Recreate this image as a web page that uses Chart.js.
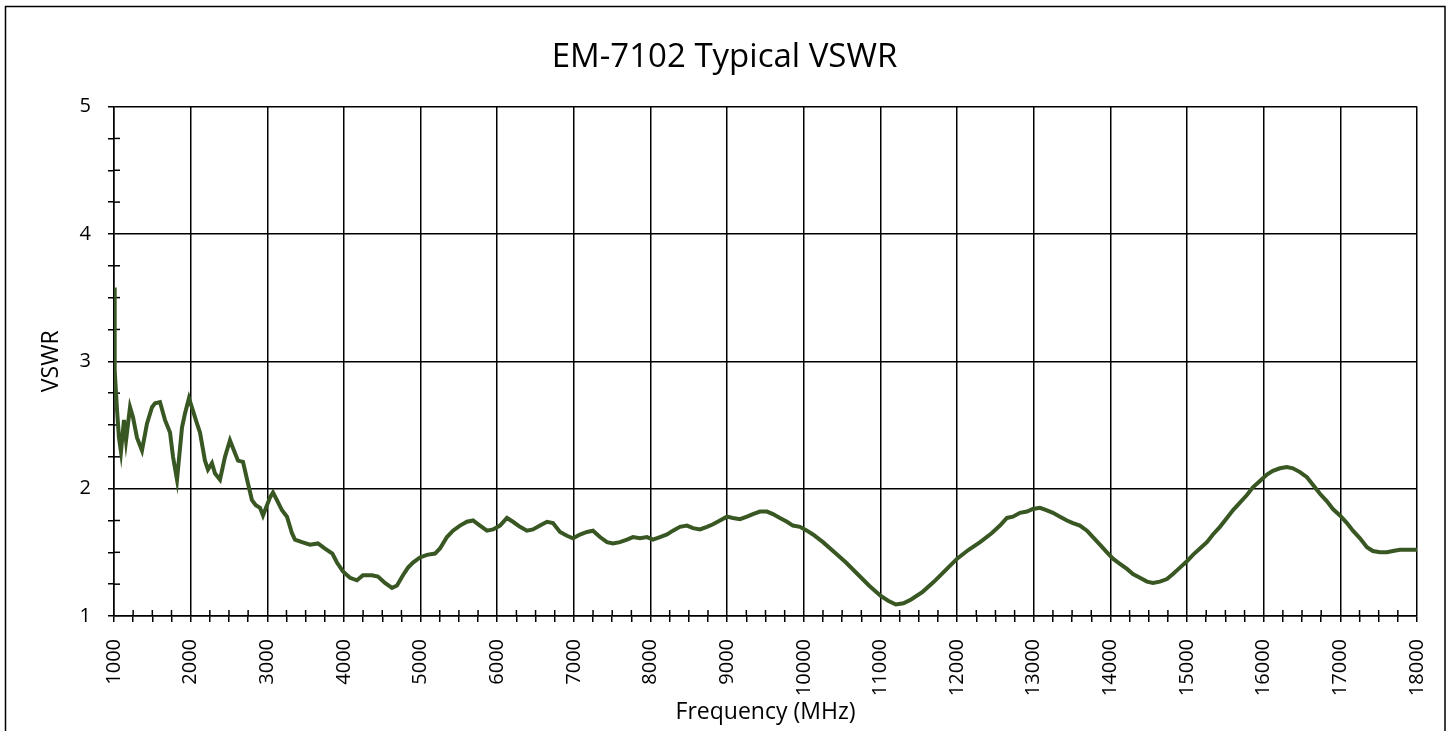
<!DOCTYPE html>
<html>
<head>
<meta charset="utf-8">
<script src="https://cdn.jsdelivr.net/npm/chart.js@4.4.1/dist/chart.umd.min.js"></script>
<style>
  html, body { margin: 0; padding: 0; background: #fff; }
  #wrap { width: 1449px; height: 731px; }
</style>
</head>
<body>
<div id="wrap"><canvas id="c" width="1449" height="731"></canvas></div>
<script>
const chartTitle = 'EM-7102 Typical VSWR';
const xAxisTitle = 'Frequency (MHz)';
const yAxisTitle = 'VSWR';

const xMin = 1000, xMax = 18000, xMajor = 1000, xMinor = 250;
const yMin = 1, yMax = 5, yMajor = 1, yMinor = 0.25;

const frequencyMHz = [
  1000, 1005, 1013, 1039, 1065, 1091, 1130, 1157, 1209, 1248, 1300, 1365, 1430, 1496, 1535, 1600,
  1665, 1731, 1770, 1822, 1887, 1926, 1978, 2031, 2083, 2122, 2187, 2226, 2278, 2317, 2383, 2448,
  2513, 2578, 2618, 2683, 2748, 2800, 2850, 2905, 2944, 2983, 3035, 3074, 3126, 3192, 3257, 3322,
  3361, 3453, 3557, 3661, 3753, 3849, 3909, 3987, 4079, 4170, 4248, 4366, 4444, 4535, 4627, 4692,
  4770, 4836, 4901, 4992, 5083, 5188, 5253, 5344, 5423, 5514, 5605, 5684, 5775, 5866, 5945, 6036,
  6127, 6205, 6297, 6388, 6466, 6558, 6649, 6727, 6819, 6910, 6988, 7079, 7171, 7249, 7340, 7432,
  7510, 7601, 7693, 7771, 7862, 7954, 8032, 8123, 8215, 8293, 8384, 8475, 8554, 8645, 8736, 8815,
  8906, 8997, 9075, 9167, 9258, 9336, 9428, 9519, 9597, 9688, 9780, 9858, 9949, 10041, 10119, 10250,
  10400, 10550, 10700, 10850, 11000, 11100, 11200, 11300, 11400, 11550, 11700, 11850, 12000, 12150, 12300, 12450,
  12559, 12650, 12728, 12820, 12911, 12989, 13081, 13172, 13250, 13342, 13433, 13511, 13602, 13694, 13772, 13863,
  13955, 14033, 14124, 14216, 14294, 14385, 14477, 14555, 14646, 14738, 14816, 14907, 14998, 15077, 15168, 15259,
  15338, 15429, 15520, 15598, 15690, 15781, 15859, 15951, 16042, 16120, 16212, 16303, 16381, 16473, 16564, 16642,
  16734, 16825, 16903, 16995, 17086, 17164, 17256, 17347, 17425, 17516, 17608, 17686, 17777, 17868, 18000
];

const vswr = [
  3.58, 3.20, 2.93, 2.62, 2.40, 2.29, 2.54, 2.38, 2.64, 2.56, 2.40, 2.30, 2.51, 2.64, 2.67, 2.68,
  2.54, 2.44, 2.25, 2.07, 2.48, 2.59, 2.71, 2.61, 2.51, 2.44, 2.22, 2.15, 2.20, 2.12, 2.07, 2.25,
  2.38, 2.28, 2.22, 2.21, 2.04, 1.91, 1.87, 1.85, 1.79, 1.85, 1.93, 1.97, 1.91, 1.83, 1.78, 1.65,
  1.60, 1.58, 1.56, 1.57, 1.53, 1.49, 1.42, 1.35, 1.30, 1.28, 1.32, 1.32, 1.31, 1.26, 1.22, 1.24,
  1.32, 1.38, 1.42, 1.46, 1.48, 1.49, 1.53, 1.62, 1.67, 1.71, 1.74, 1.75, 1.71, 1.67, 1.68, 1.71,
  1.77, 1.74, 1.70, 1.67, 1.68, 1.71, 1.74, 1.73, 1.66, 1.63, 1.61, 1.64, 1.66, 1.67, 1.62, 1.58,
  1.57, 1.58, 1.60, 1.62, 1.61, 1.62, 1.60, 1.62, 1.64, 1.67, 1.70, 1.71, 1.69, 1.68, 1.70, 1.72,
  1.75, 1.78, 1.77, 1.76, 1.78, 1.80, 1.82, 1.82, 1.80, 1.77, 1.74, 1.71, 1.70, 1.67, 1.64, 1.58,
  1.50, 1.42, 1.33, 1.24, 1.16, 1.12, 1.09, 1.10, 1.13, 1.19, 1.27, 1.36, 1.45, 1.52, 1.58, 1.65,
  1.71, 1.77, 1.78, 1.81, 1.82, 1.84, 1.85, 1.83, 1.81, 1.78, 1.75, 1.73, 1.71, 1.67, 1.62, 1.56,
  1.50, 1.45, 1.41, 1.37, 1.33, 1.30, 1.27, 1.26, 1.27, 1.29, 1.33, 1.38, 1.43, 1.48, 1.53, 1.58,
  1.64, 1.70, 1.77, 1.83, 1.89, 1.95, 2.01, 2.06, 2.11, 2.14, 2.16, 2.17, 2.16, 2.13, 2.09, 2.03,
  1.96, 1.90, 1.84, 1.79, 1.73, 1.67, 1.61, 1.54, 1.51, 1.50, 1.50, 1.51, 1.52, 1.52, 1.52
];

const FONT = '"Open Sans", "Liberation Sans", sans-serif';
Chart.defaults.color = '#000';
Chart.defaults.font.family = FONT;

const points = frequencyMHz.map((f, i) => ({ x: f, y: vswr[i] }));

const isMajor = (v, step) => Math.abs(v / step - Math.round(v / step)) < 1e-6;

const decor = {
  id: 'decor',
  beforeDatasetsDraw(chart) {
    const { ctx, chartArea: a, scales: { x, y } } = chart;
    ctx.save();
    ctx.strokeStyle = '#000';
    ctx.lineWidth = 1.5;
    x.ticks.forEach(t => {
      if (!isMajor(t.value, xMajor)) {
        const px = x.getPixelForValue(t.value);
        ctx.beginPath(); ctx.moveTo(px, a.bottom); ctx.lineTo(px, a.bottom - 6); ctx.stroke();
      }
    });
    y.ticks.forEach(t => {
      if (!isMajor(t.value, yMajor)) {
        const py = y.getPixelForValue(t.value);
        ctx.beginPath(); ctx.moveTo(a.left, py); ctx.lineTo(a.left + 6, py); ctx.stroke();
      }
    });
    ctx.restore();
  },
  afterDraw(chart) {
    const ctx = chart.ctx;
    ctx.save();
    ctx.strokeStyle = '#000';
    ctx.lineWidth = 1.5;
    ctx.strokeRect(5.5, 6.5, 1439.5, 740);
    ctx.restore();
  }
};

new Chart(document.getElementById('c'), {
  type: 'line',
  data: {
    datasets: [{
      data: points,
      borderColor: '#385723',
      borderWidth: 4,
      pointRadius: 0,
      tension: 0,
      fill: false
    }]
  },
  options: {
    responsive: false,
    animation: false,
    devicePixelRatio: 1,
    layout: { padding: { left: 32, right: 32, top: 0, bottom: 0 } },
    plugins: {
      legend: { display: false },
      tooltip: { enabled: false },
      title: {
        display: true,
        text: chartTitle,
        color: '#000',
        font: { family: FONT, size: 33, weight: 'normal', lineHeight: 1.2 },
        padding: { top: 38, bottom: 29 }
      }
    },
    scales: {
      x: {
        type: 'linear',
        min: xMin, max: xMax,
        afterFit(s) { s.height = 115; s.paddingLeft = 0; s.paddingRight = 0; },
        border: { display: true, color: '#000', width: 1.5 },
        grid: {
          color: c => (c.tick && isMajor(c.tick.value, xMajor)) ? '#000' : 'rgba(0,0,0,0)',
          tickColor: '#000',
          lineWidth: 1.5,
          drawTicks: true,
          tickLength: 6
        },
        ticks: {
          stepSize: xMinor,
          autoSkip: false,
          maxRotation: 90,
          minRotation: 90,
          padding: 17,
          color: '#000',
          font: { family: FONT, size: 20 },
          callback: v => isMajor(v, xMajor) ? String(v) : ''
        },
        title: {
          display: true,
          text: xAxisTitle,
          color: '#000',
          font: { family: FONT, size: 23 },
          padding: { top: 0, bottom: 5 }
        }
      },
      y: {
        type: 'linear',
        min: yMin, max: yMax,
        afterFit(s) { s.width = 82; },
        border: { display: true, color: '#000', width: 1.5 },
        grid: {
          color: c => (c.tick && isMajor(c.tick.value, yMajor)) ? '#000' : 'rgba(0,0,0,0)',
          tickColor: '#000',
          lineWidth: 1.5,
          drawTicks: true,
          tickLength: 6
        },
        ticks: {
          stepSize: yMinor,
          autoSkip: false,
          padding: 17,
          color: '#000',
          font: { family: FONT, size: 20 },
          callback: v => isMajor(v, yMajor) ? String(v) : ''
        },
        title: {
          display: true,
          text: yAxisTitle,
          color: '#000',
          font: { family: FONT, size: 23 },
          padding: { top: 6, bottom: 0 }
        }
      }
    }
  },
  plugins: [decor]
});
</script>
</body>
</html>
